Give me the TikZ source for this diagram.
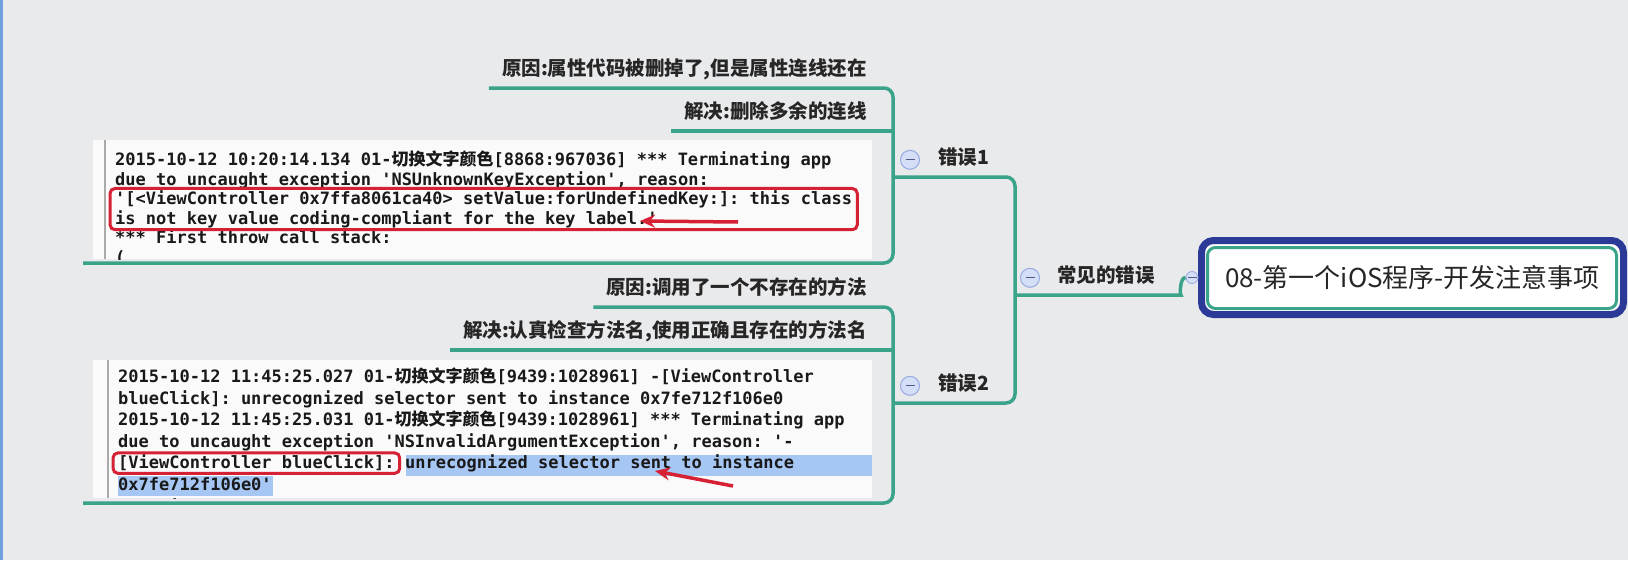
\documentclass[tikz,border=0pt]{standalone}
\usepackage{fontspec}
\setmonofont{DejaVu Sans Mono}
\newfontfamily\cjk{Noto Sans CJK SC}
\usetikzlibrary{arrows.meta,fit}

\definecolor{paper}{RGB}{233,234,236}
\definecolor{rim}{RGB}{112,160,222}
\definecolor{branchteal}{RGB}{58,163,138}
\definecolor{rootnavy}{RGB}{42,58,150}
\definecolor{foldfill}{RGB}{212,222,247}
\definecolor{folddraw}{RGB}{150,170,226}
\definecolor{foldink}{RGB}{80,90,130}
\definecolor{ink}{RGB}{38,38,38}
\definecolor{shotwhite}{RGB}{250,250,250}
\definecolor{gutter}{RGB}{170,170,170}
\definecolor{alertred}{RGB}{214,32,52}
\definecolor{selblue}{RGB}{166,198,244}

\newcommand\codefont{\ttfamily\bfseries\fontsize{17}{20}\selectfont}
\newcommand\topicfont{\cjk\bfseries\fontsize{19.5}{22}\selectfont}
\newcommand\rootfont{\cjk\fontsize{26}{30}\selectfont}

\begin{document}
\begin{tikzpicture}[x=1pt, y=-1pt,
    branch/.style={draw=branchteal, line width=3.5pt, rounded corners=9pt},
    topic/.style={font=\topicfont, text=ink, text height=15pt, text depth=5pt, inner xsep=13pt, inner ysep=7pt},
    fold/.style={circle, draw=folddraw, fill=foldfill, line width=1pt, minimum size=19pt, inner sep=0pt,
        path picture={\draw[foldink, line width=1.3pt] ([xshift=-4.5pt]path picture bounding box.center) -- ([xshift=4.5pt]path picture bounding box.center);}},
    shot/.style={fill=shotwhite, inner sep=0pt, anchor=north west},
    code/.style={font=\codefont, text=black!90, anchor=base west, inner sep=0pt},
    alert/.style={draw=alertred, line width=3pt, rounded corners=5pt, inner xsep=5pt, inner ysep=2pt},
    pointer/.style={draw=alertred, line width=3.5pt, -{Stealth[length=15pt,width=13pt]}},
    select/.style={fill=selblue}
]

% Page
\fill[paper] (0,0) rectangle (1628,560);
\fill[rim] (0,0) rectangle (3,560);
\useasboundingbox (0,0) rectangle (1628,560);

% Screenshot panels
\node[shot, minimum width=779pt, minimum height=119pt] (shot1) at (93,140) {};
\node[shot, minimum width=779pt, minimum height=138pt] (shot2) at (93,360) {};
\draw[gutter, line width=2pt] ([xshift=12pt]shot1.north west) -- ([xshift=12pt]shot1.south west);
\draw[gutter, line width=2pt] ([xshift=15pt]shot2.north west) -- ([xshift=15pt]shot2.south west);

% Selection in the second log
\fill[select] (406,455) rectangle (872,476);
\fill[select] (118,476) rectangle (273,496);

% Log of error 1
\begin{scope}
\clip (shot1.north west) rectangle (shot1.south east);
\node[code] (log1a) at (115,165.5) {2015-10-12 10:20:14.134 01-{\cjk\bfseries 切换文字颜色}[8868:967036] *** Terminating app};
\node[code] (log1b) at (115,185) {due to uncaught exception 'NSUnknownKeyException', reason:};
\node[code] (log1c) at (115,204.5) {'[<ViewController 0x7ffa8061ca40> setValue:forUndefinedKey:]: this class};
\node[code] (log1d) at (115,224) {is not key value coding-compliant for the key label.'};
\node[code] (log1e) at (115,243.5) {*** First throw call stack:};
\node[code] (log1f) at (115,263) {(};
\end{scope}

% Log of error 2
\begin{scope}
\clip (shot2.north west) rectangle (shot2.south east);
\node[code] (log2a) at (118,382.5) {2015-10-12 11:45:25.027 01-{\cjk\bfseries 切换文字颜色}[9439:1028961] -[ViewController};
\node[code] (log2b) at (118,404.1) {blueClick]: unrecognized selector sent to instance 0x7fe712f106e0};
\node[code] (log2c) at (118,425.7) {2015-10-12 11:45:25.031 01-{\cjk\bfseries 切换文字颜色}[9439:1028961] *** Terminating app};
\node[code] (log2d) at (118,447.3) {due to uncaught exception 'NSInvalidArgumentException', reason: '-};
\node[code] (log2e) at (118,468.9) {[ViewController blueClick]:};
\node[code] (log2f) at ([xshift=10.2pt]log2e.base east) {unrecognized selector sent to instance};
\node[code] (log2g) at (118,490.5) {0x7fe712f106e0'};
\node[code] (log2h) at (118,512.1) {*** First throw call stack:};
\end{scope}

% Red marks
\node[alert, fit=(log1c)(log1d)] (alert1) {};
\node[alert, fit=(log2e)] (alert2) {};
\coordinate (from1) at (738,222);
\coordinate (to1) at (640,221);
\coordinate (from2) at (733,486);
\coordinate (to2) at (655,471);
\draw[pointer] (from1) -- (to1);
\draw[pointer] (from2) -- (to2);

% Topics
\node[topic, anchor=south east] (cause1) at (880,88) {原因:属性代码被删掉了,但是属性连线还在};
\node[topic, anchor=south east] (fix1) at (880,131) {解决:删除多余的连线};
\node[topic, anchor=south east] (cause2) at (880,307) {原因:调用了一个不存在的方法};
\node[topic, anchor=south east] (fix2) at (880,350) {解决:认真检查方法名,使用正确且存在的方法名};
\node[topic, anchor=south west] (err1) at (925,177) {错误1};
\node[topic, anchor=south west] (err2) at (925,403) {错误2};
\node[topic, anchor=south west] (common) at (1044,295) {常见的错误};

% Root
\node[font=\rootfont, text=ink, draw=rootnavy, line width=7pt, fill=white, rounded corners=12pt,
    minimum width=422pt, minimum height=74pt, inner sep=0pt] (root) at (1412.5,277.5) {08-第一个iOS程序-开发注意事项};
\draw[branchteal, line width=3pt, rounded corners=8pt] ([shift={(9.5,10.5)}]root.north west) rectangle ([shift={(-10.5,-9.5)}]root.south east);

% Fold markers
\node[fold] (err1fold) at ([xshift=-15pt]err1.west) {};
\node[fold] (err2fold) at ([xshift=-15pt]err2.west) {};
\node[fold] (commonfold) at ([xshift=-14pt]common.west) {};
\node[fold, minimum size=12pt, line width=0.8pt] (rootfold) at ([xshift=-6pt]root.west) {};

% Branches
\coordinate (hub) at (1015,295);
\coordinate (knee1) at (893,263);
\coordinate (knee2) at (893,503);
\coordinate (end1) at (83,263);
\coordinate (end2) at (83,503);
\draw[branch] (cause1.south west) -| (knee1) -- (end1);
\draw[branch] (fix1.south west) -- (fix1.south -| knee1);
\draw[branch] (cause2.south west) -| (knee2) -- (end2);
\draw[branch] (fix2.south west) -- (fix2.south -| knee2);
\draw[branch] (err1.south -| knee1) -| (hub) |- (err2.south -| knee2);
\draw[branch] (hub) -- (common.south east) -- ++(4,0) .. controls +(8,0) and +(-6,0) .. (rootfold.west);

\end{tikzpicture}
\end{document}
